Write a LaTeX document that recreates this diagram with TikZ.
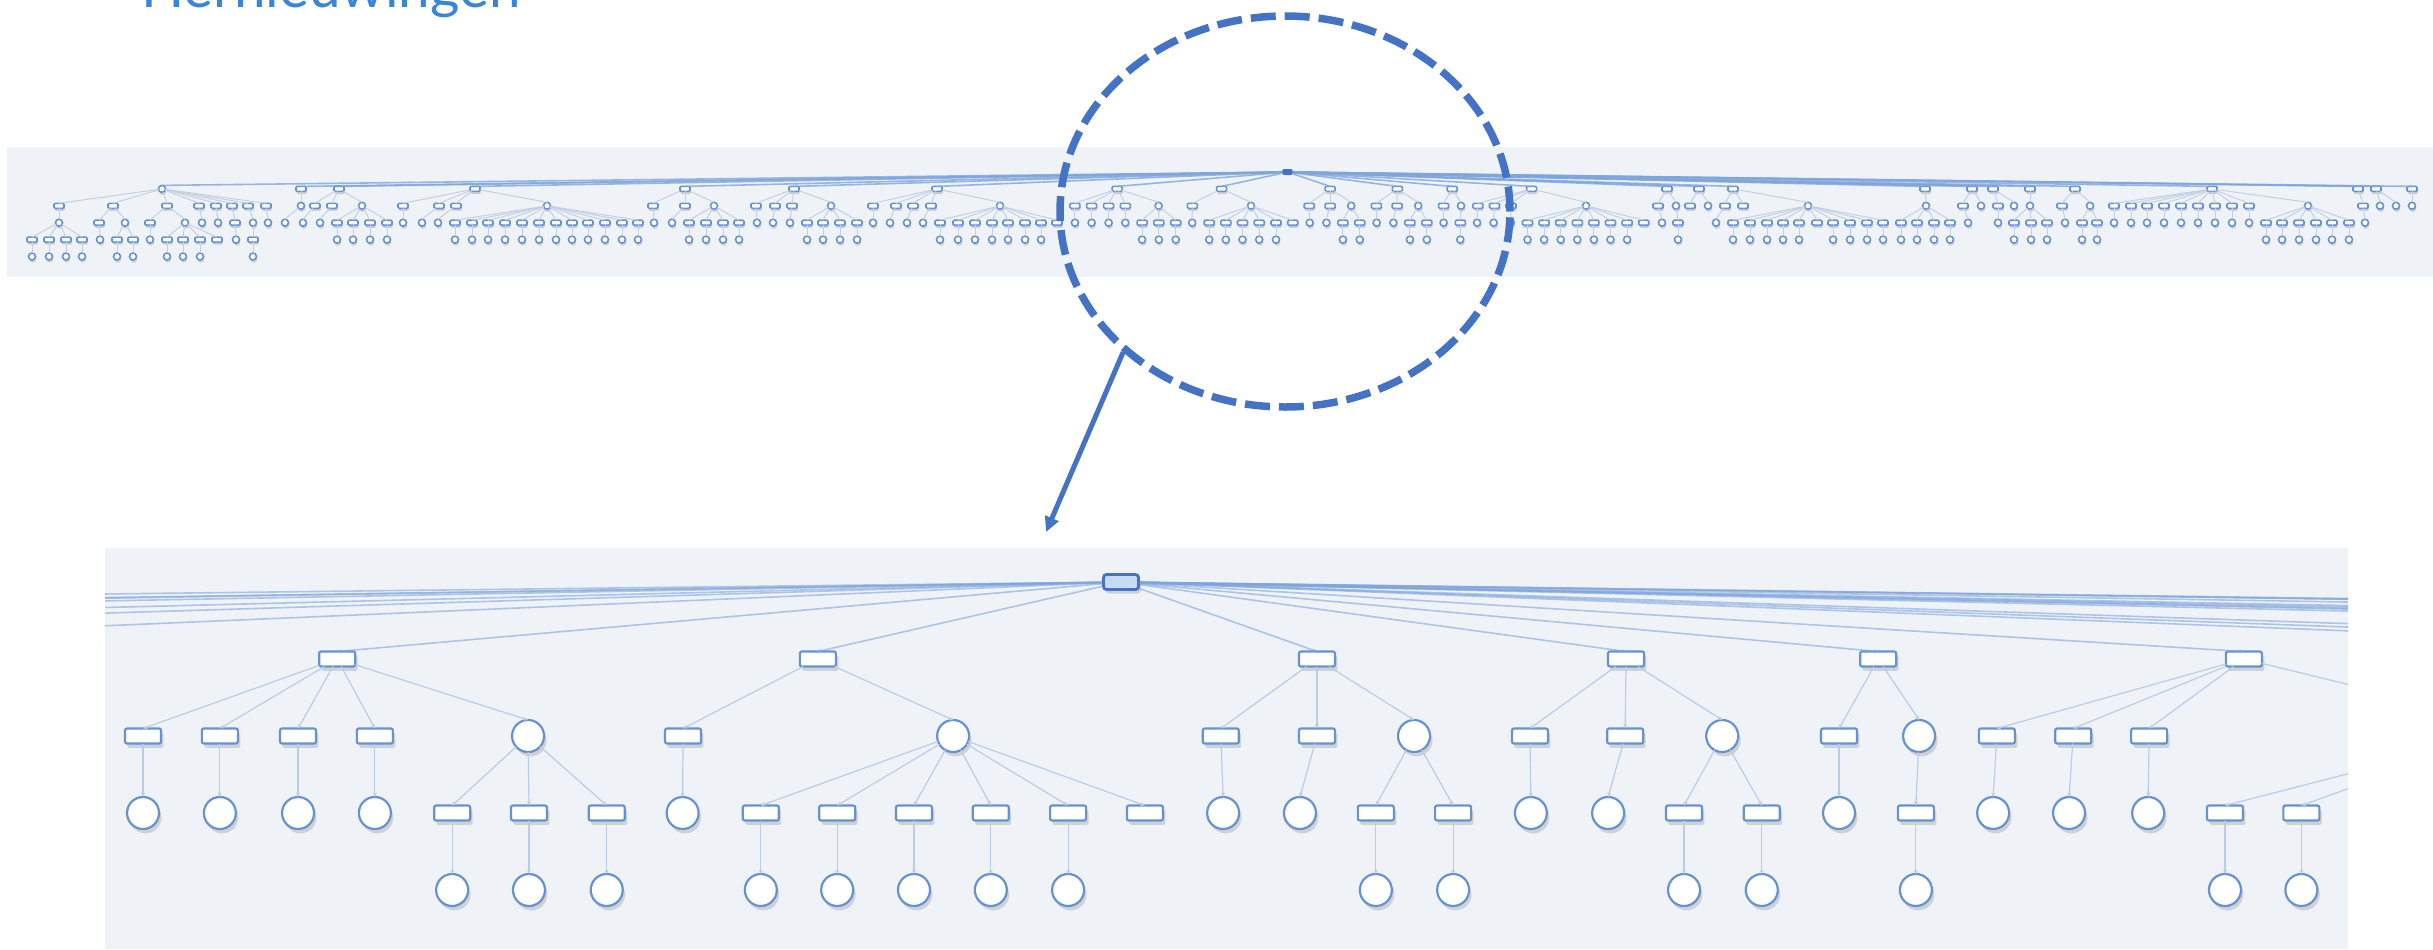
\documentclass[tikz,border=0pt]{standalone}
\usepackage{fontspec}
\newfontfamily\titlefont{Lato}
\usetikzlibrary{shapes.geometric,arrows.meta,shadows}
\definecolor{panelbg}{HTML}{EFF3F7}
\definecolor{nodeblue}{HTML}{6592D5}
\definecolor{edgeblue}{HTML}{B9CCE8}
\definecolor{edgegrey}{HTML}{C4D0E2}
\definecolor{rootline}{HTML}{7FA5DD}
\definecolor{accent}{HTML}{4472C4}
\definecolor{titleblue}{HTML}{3A85D9}
\definecolor{rootfill}{HTML}{C6DBF4}
% view parameters (redefined per view)
\def\tvox{0}\def\tvsx{1}\def\tvoy{0}\def\tvdy{1}
\def\tvrw{4pt}\def\tvrh{2pt}\def\tvcd{3pt}\def\tvlw{0.5pt}
\def\tvshx{0.3pt}\def\tvshy{-0.8pt}\def\tvrc{0.5pt}\def\tvsop{.22}
\tikzset{
  box/.style={rectangle, draw=nodeblue, fill=white, line width=\tvlw,
    minimum width=\tvrw, minimum height=\tvrh, inner sep=0pt, outer sep=0pt,
    rounded corners=\tvrc,
    drop shadow={shadow xshift=\tvshx, shadow yshift=\tvshy, opacity=\tvsop, fill=black!55}},
  ring/.style={circle, draw=nodeblue, fill=white, line width=\tvlw,
    minimum size=\tvcd, inner sep=0pt, outer sep=0pt,
    drop shadow={shadow xshift=\tvshx, shadow yshift=\tvshy, opacity=\tvsop, fill=black!55}},
  Oroot/.style={rectangle, fill=accent, draw=accent, line width=0.4pt,
    minimum width=5pt, minimum height=2.6pt, inner sep=0pt, rounded corners=1pt},
  Mroot/.style={rectangle, fill=rootfill, draw=accent, line width=1.4pt,
    minimum width=17.5pt, minimum height=7.5pt, inner sep=0pt, rounded corners=1.5pt,
    drop shadow={shadow xshift=1.2pt, shadow yshift=-2pt, opacity=.25, fill=black!55}},
  Oedge/.style={draw=edgegrey, line width=0.5pt},
  Orootedge/.style={draw=rootline, line width=0.8pt, draw opacity=.8},
  Medge/.style={draw=edgeblue, line width=0.6pt, -{Stealth[length=2.2pt,width=2pt]}},
  Mrootedge/.style={draw=rootline, line width=0.8pt, draw opacity=.6, -{Stealth[length=2.2pt,width=2pt]}},
  lensstyle/.style={ellipse, draw=accent, line width=3.75pt, dash pattern=on 12.5pt off 4.5pt,
    minimum width=225pt, minimum height=195.5pt, inner sep=0pt},
  zoomarrow/.style={draw=accent, line width=2.5pt, -{Triangle[length=7.5pt,width=7pt]}},
}
\def\LA{A01/ring/162/R,A02/box/301/R,A03/box/339/R,A04/box/475/R,A05/box/685/R,A06/box/794/R,A07/box/937/R,A08/box/1117.1/R,A09/box/1221.6/R,A10/box/1330.1/R,A11/box/1397.3/R,A12/box/1452.1/R,A13/box/1531.6/R,A14/box/1667/R,A15/box/1699/R,A16/box/1733/R,A17/box/1925/R,A18/box/1972/R,A19/box/1993/R,A20/box/2030/R,A21/box/2075/R,A22/box/2212/R,A23/box/2358/R,A24/box/2376/R,A25/box/2412/R}
\def\LB{B01/box/59/A01,B02/box/113/A01,B03/box/167/A01,B04/box/199/A01,B05/box/216/A01,B06/box/232/A01,B07/box/248/A01,B08/box/266/A01,B09/ring/301/A02,B10/box/315/A03,B11/box/332/A03,B12/ring/362/A03,B13/box/403/A04,B14/box/439/A04,B15/box/456/A04,B16/ring/547/A04,B17/box/653/A05,B18/box/685/A05,B19/ring/714/A05,B20/box/756/A06,B21/box/775/A06,B22/box/792/A06,B23/ring/831/A06,B24/box/873/A07,B25/box/896/A07,B26/box/913/A07,B27/box/931/A07,B28/ring/1000/A07,B29/box/1074.9/A08,B30/box/1091.6/A08,B31/box/1108.6/A08,B32/box/1125.3/A08,B33/ring/1158.6/A08,B34/box/1192.3/A09,B35/ring/1251/A09,B36/box/1309.2/A10,B37/box/1330.1/A10,B38/ring/1351.2/A10,B39/box/1376.4/A11,B40/box/1397.1/A11,B41/ring/1418.2/A11,B42/box/1443.6/A12,B43/ring/1461/A12,B44/box/1477.9/A13,B45/box/1494.5/A13,B46/box/1511/A13,B47/ring/1586/A13,B48/box/1658/A14,B49/ring/1676/A14,B50/box/1690/A15,B51/ring/1708/A15,B52/box/1725/A16,B53/box/1743/A16,B54/ring/1808/A16,B55/ring/1926/A17,B56/box/1963/A18,B57/ring/1981/A18,B58/box/1998/A19,B59/ring/2014/A19,B60/ring/2030/A20,B61/box/2062/A21,B62/ring/2090/A21,B63/box/2114/A22,B64/box/2131/A22,B65/box/2147/A22,B66/box/2164/A22,B67/box/2181/A22,B68/box/2198/A22,B69/box/2215/A22,B70/box/2232/A22,B71/box/2249/A22,B72/ring/2308/A22,B73/box/2363/A23,B74/ring/2380/A24,B75/ring/2396/A24,B76/ring/2412/A25}
\def\LC{C01/ring/59/B01,C02/box/99/B02,C03/ring/125/B02,C04/box/150/B03,C05/ring/185/B03,C06/ring/202/B04,C07/ring/218/B05,C08/box/235/B06,C09/ring/253/B07,C10/ring/268/B08,C11/ring/285/B09,C12/ring/303/B10,C13/ring/320/B11,C14/box/337/B12,C15/box/353/B12,C16/box/370/B12,C17/box/387/B12,C18/ring/403/B13,C19/ring/422/B14,C20/ring/438/B15,C21/box/455/B16,C22/box/472/B16,C23/box/488/B16,C24/box/505/B16,C25/box/522/B16,C26/box/539/B16,C27/box/556/B16,C28/box/572/B16,C29/box/588/B16,C30/box/605/B16,C31/box/622/B16,C32/box/638/B16,C33/ring/654/B17,C34/ring/672/B18,C35/box/689/B19,C36/box/706/B19,C37/box/723/B19,C38/box/739/B19,C39/ring/757/B20,C40/ring/773/B21,C41/ring/790/B22,C42/box/807/B23,C43/box/823/B23,C44/box/840/B23,C45/box/857/B23,C46/ring/873/B24,C47/ring/890/B25,C48/ring/907/B26,C49/ring/923/B27,C50/box/940/B28,C51/box/958/B28,C52/box/975/B28,C53/box/992/B28,C54/box/1008/B28,C55/box/1025/B28,C56/box/1041/B28,C57/box/1057/B28,C58/ring/1074.9/B29,C59/ring/1091.6/B30,C60/ring/1108.6/B31,C61/ring/1125.3/B32,C62/box/1142.1/B33,C63/box/1158.8/B33,C64/box/1175.7/B33,C65/ring/1192.2/B34,C66/box/1209.2/B35,C67/box/1225.8/B35,C68/box/1242.5/B35,C69/box/1259.2/B35,C70/box/1276/B35,C71/box/1292.7/B35,C72/ring/1309.7/B36,C73/ring/1326.4/B37,C74/box/1342.9/B38,C75/box/1359.7/B38,C76/ring/1376.6/B39,C77/ring/1393.4/B40,C78/box/1409.9/B41,C79/box/1426.8/B41,C80/ring/1443.6/B42,C81/box/1460.3/B43,C82/ring/1477.1/B44,C83/ring/1493.6/B45,C84/ring/1510.8/B46,C85/box/1527.5/B47,C86/box/1544.1/B47,C87/box/1560.7/B47,C88/box/1577.3/B47,C89/box/1593.9/B47,C90/box/1610.5/B47,C91/box/1627.1/B47,C92/box/1643.7/B47,C93/ring/1662/B48,C94/box/1678/B49,C95/ring/1716/B52,C96/box/1733/B54,C97/box/1750/B54,C98/box/1767/B54,C99/box/1783/B54,C100/box/1799/B54,C101/box/1817/B54,C102/box/1833/B54,C103/box/1850/B54,C104/box/1867/B54,C105/box/1883/B54,C106/box/1901/B55,C107/box/1917/B55,C108/box/1934/B55,C109/box/1950/B55,C110/ring/1968/B56,C111/ring/1998/B58,C112/box/2014/B60,C113/box/2031/B60,C114/box/2047/B60,C115/ring/2065/B61,C116/box/2082/B62,C117/box/2097/B62,C118/ring/2114/B63,C119/ring/2131/B64,C120/ring/2147/B65,C121/ring/2164/B66,C122/ring/2181/B67,C123/ring/2198/B68,C124/ring/2215/B69,C125/ring/2232/B70,C126/ring/2249/B71,C127/box/2266/B72,C128/box/2282/B72,C129/box/2299/B72,C130/box/2316/B72,C131/box/2332/B72,C132/box/2349/B72,C133/ring/2365/B73}
\def\LD{D01/box/32/C01,D02/box/49/C01,D03/box/66/C01,D04/box/82/C01,D05/ring/100/C02,D06/box/117/C03,D07/box/133/C03,D08/ring/150/C04,D09/box/167/C05,D10/box/183/C05,D11/box/200/C05,D12/box/217/C05,D13/ring/236/C08,D14/box/253/C09,D15/ring/337/C14,D16/ring/353/C15,D17/ring/370/C16,D18/ring/387/C17,D19/ring/455/C21,D20/ring/472/C22,D21/ring/488/C23,D22/ring/505/C24,D23/ring/522/C25,D24/ring/539/C26,D25/ring/556/C27,D26/ring/572/C28,D27/ring/588/C29,D28/ring/605/C30,D29/ring/622/C31,D30/ring/638/C32,D31/ring/689/C35,D32/ring/706/C36,D33/ring/723/C37,D34/ring/739/C38,D35/ring/807/C42,D36/ring/823/C43,D37/ring/840/C44,D38/ring/857/C45,D39/ring/940/C50,D40/ring/958/C51,D41/ring/975/C52,D42/ring/992/C53,D43/ring/1008/C54,D44/ring/1025/C55,D45/ring/1041/C56,D46/ring/1142.1/C62,D47/ring/1158.8/C63,D48/ring/1175.7/C64,D49/ring/1209.2/C66,D50/ring/1225.8/C67,D51/ring/1242.5/C68,D52/ring/1259.2/C69,D53/ring/1276/C70,D54/ring/1342.9/C74,D55/ring/1359.7/C75,D56/ring/1409.9/C78,D57/ring/1426.8/C79,D58/ring/1460.3/C81,D59/ring/1527.5/C85,D60/ring/1544.1/C86,D61/ring/1560.7/C87,D62/ring/1577.3/C88,D63/ring/1593.9/C89,D64/ring/1610.5/C90,D65/ring/1627.1/C91,D66/ring/1678/C94,D67/ring/1733/C96,D68/ring/1750/C97,D69/ring/1767/C98,D70/ring/1783/C99,D71/ring/1799/C100,D72/ring/1833/C102,D73/ring/1850/C103,D74/ring/1867/C104,D75/ring/1883/C105,D76/ring/1901/C106,D77/ring/1917/C107,D78/ring/1934/C108,D79/ring/1950/C109,D80/ring/2014/C112,D81/ring/2031/C113,D82/ring/2047/C114,D83/ring/2082/C116,D84/ring/2097/C117,D85/ring/2266/C127,D86/ring/2282/C128,D87/ring/2299/C129,D88/ring/2316/C130,D89/ring/2332/C131,D90/ring/2349/C132}
\def\LE{E01/ring/32/D01,E02/ring/49/D02,E03/ring/66/D03,E04/ring/82/D04,E05/ring/117/D06,E06/ring/133/D07,E07/ring/167/D09,E08/ring/183/D10,E09/ring/200/D11,E10/ring/253/D14}
\newcommand\drawlevel[4]{%
  \foreach \nm/\kd/\xx/\pa in #3 {%
    \node[\kd] (#1\nm) at ({\tvox+(\xx-1287.5)*\tvsx},{\tvoy+#2*\tvdy}) {};
    \draw[#4] (#1\pa) -- (#1\nm.north);
  }}
\newcommand\drawtree[1]{%
  \node[#1root] (#1R) at (\tvox,\tvoy) {};
  \drawlevel{#1}{1}{\LA}{#1rootedge}
  \drawlevel{#1}{2}{\LB}{#1edge}
  \drawlevel{#1}{3}{\LC}{#1edge}
  \drawlevel{#1}{4}{\LD}{#1edge}
  \drawlevel{#1}{5}{\LE}{#1edge}}
\begin{document}
\begin{tikzpicture}[x=0.5pt,y=-0.5pt]
\useasboundingbox (0,0) rectangle (2433,949);
\fill[white] (0,0) rectangle (2433,949);
\node[font=\titlefont\fontsize{28.3}{30}\selectfont, text=titleblue, anchor=base west, inner sep=0pt] (title) at (141,7) {Hernieuwingen};
% overview strip
\fill[panelbg] (7,147) rectangle (2433,277);
\begin{scope}
  \def\tvox{1287.5}\def\tvsx{1}\def\tvoy{172}\def\tvdy{16.9}
  \def\tvrw{5pt}\def\tvrh{2.5pt}\def\tvcd{3.5pt}\def\tvlw{0.8pt}
  \def\tvshx{0.4pt}\def\tvshy{-1.3pt}\def\tvrc{0.6pt}\def\tvsop{.28}
  \drawtree{O}
\end{scope}
% magnified panel
\fill[panelbg] (105,548) rectangle (2348,949);
\begin{scope}
  \clip (105,548) rectangle (2348,949);
  \def\tvox{1121}\def\tvsx{4.6}\def\tvoy{582}\def\tvdy{77}
  \def\tvrw{18pt}\def\tvrh{7.5pt}\def\tvcd{16pt}\def\tvlw{1.1pt}
  \def\tvshx{1.2pt}\def\tvshy{-2.2pt}\def\tvrc{1pt}\def\tvsop{.25}
  \drawtree{M}
\end{scope}
% magnifier
\node[lensstyle] (lens) at (1285,211.5) {};
\coordinate (zoomtip) at (1046,532);
\draw[zoomarrow] (lens.221.7) -- (zoomtip);
\end{tikzpicture}
\end{document}
